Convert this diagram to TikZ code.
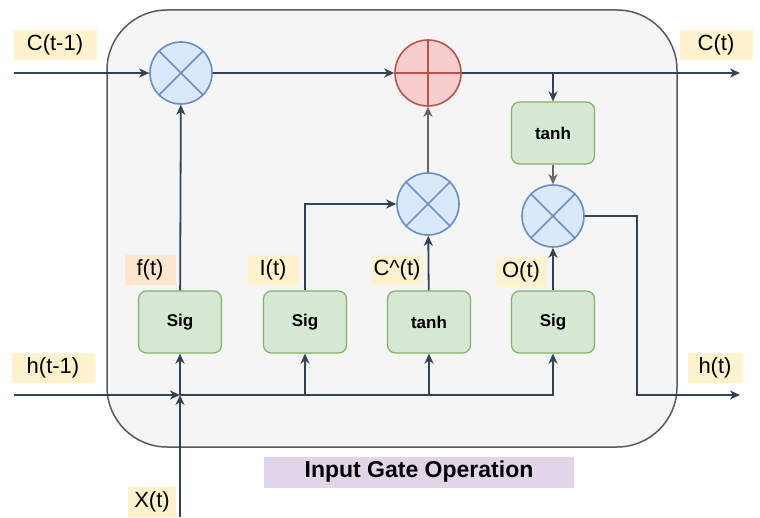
\documentclass[tikz,border=0pt]{standalone}
\usepackage{fontspec}
\setmainfont{Liberation Sans}
\usetikzlibrary{shapes.geometric, arrows.meta, positioning}

\definecolor{navy}{HTML}{314354}
\definecolor{gatefill}{HTML}{D5E8D4}
\definecolor{gateline}{HTML}{82B366}
\definecolor{mulfill}{HTML}{DAE8FC}
\definecolor{mulline}{HTML}{6C8EBF}
\definecolor{addfill}{HTML}{F8CECC}
\definecolor{addline}{HTML}{B85450}
\definecolor{tagfill}{HTML}{FFF2CC}
\definecolor{ftagfill}{HTML}{FFE6CC}
\definecolor{titlefill}{HTML}{E1D5E7}

\tikzstyle{arrow} = [line width=1.8pt, draw=navy, ->, >={Stealth[length=10pt,width=9pt,inset=3pt]}]
\tikzstyle{arrowg} = [arrow, draw=black!60]
\tikzstyle{gate} = [rectangle, rounded corners=8pt, minimum width=83pt, minimum height=62pt, draw=gateline, fill=gatefill, line width=1.2pt, font=\fontsize{17}{19}\selectfont\bfseries]
\tikzstyle{mul} = [circle, minimum size=62pt, inner sep=0pt, draw=mulline, fill=mulfill, line width=1.6pt]
\tikzstyle{add} = [circle, minimum size=66pt, inner sep=0pt, draw=addline, fill=addfill, line width=1.6pt]
\tikzstyle{tag} = [rectangle, fill=tagfill, minimum height=30pt, inner sep=1pt, font=\fontsize{22}{24}\selectfont]

\begin{document}
\begin{tikzpicture}[x=1pt, y=1pt]
\useasboundingbox (0,0) rectangle (760,517);

% LSTM cell:
\draw[draw=black!65, fill=black!4, line width=1.5pt, rounded corners=60pt] (107,70) rectangle (677,507);

% gates:
\node(sigf)[gate] at (180,195) {Sig};
\node(sigi)[gate, right of=sigf, node distance=125pt] {Sig};
\node(tanhi)[gate, right of=sigi, node distance=124pt] {tanh};
\node(sigo)[gate, right of=tanhi, node distance=124pt] {Sig};
\node(tanhc)[gate] at (553,384) {tanh};

% pointwise operations:
\node(m1)[mul] at (181,444) {};
\node(plus)[add] at (428,444) {};
\node(m2)[mul] at (428,313) {};
\node(m3)[mul] at (553,301) {};
\draw[mulline, line width=1.6pt] (m1.north east) -- (m1.south west) (m1.north west) -- (m1.south east);
\draw[mulline, line width=1.6pt] (m2.north east) -- (m2.south west) (m2.north west) -- (m2.south east);
\draw[mulline, line width=1.6pt] (m3.north east) -- (m3.south west) (m3.north west) -- (m3.south east);
\draw[addline, line width=1.6pt] (plus.north) -- (plus.south) (plus.west) -- (plus.east);

% labels:
\node(ctm1)[tag, minimum width=83pt] at (55,472) {C(t-1)};
\node(ct)[tag, minimum width=73pt] at (716,472) {C(t)};
\node(htm1)[tag, minimum width=83pt] at (53,149) {h(t-1)};
\node(ht)[tag, minimum width=55pt] at (715,149) {h(t)};
\node(xt)[tag, minimum width=48pt] at (152,15) {X(t)};
\node(ft)[tag, fill=ftagfill, minimum width=51pt] at (150,247) {f(t)};
\node(it)[tag, minimum width=51pt] at (273,247) {I(t)};
\node(cht)[tag, minimum width=51pt] at (397,247) {C\^{}(t)};
\node(ot)[tag, minimum width=51pt] at (521,245) {O(t)};
\node(title)[rectangle, fill=titlefill, minimum width=310pt, minimum height=31pt, font=\fontsize{23}{25}\selectfont\bfseries] at (419,45) {Input Gate Operation};

% free ends:
\coordinate (cin) at (14,444);
\coordinate (cout) at (740,444);
\coordinate (hin) at (14,122);
\coordinate (xjoin) at (180,122);
\coordinate (xin) at (180,0);
\coordinate (hturn) at (637,122);
\coordinate (hout) at (740,122);

% cell state:
\draw[arrow] (cin) -- (m1);
\draw[arrow] (m1) -- (plus);
\draw[arrow] (plus) -- (cout);
\draw[arrow] (tanhc.north |- plus) -- (tanhc);
\draw[arrowg] (tanhc) -- (m3);

% gate outputs:
\draw[arrow] (sigf) -- (m1);
\draw[arrow] (sigi.north) |- (m2);
\draw[arrow] (tanhi) -- (m2);
\draw[arrowg] (m2) -- (plus);
\draw[arrow] (sigo) -- (m3);
\draw[arrow] (m3.east) -| (hturn) -- (hout);

% inputs:
\draw[arrow] (hin) -- (xjoin);
\draw[arrow] (xin) -- (xjoin);
\draw[arrow] (xjoin) -- (sigf);
\draw[arrow] (xjoin) -| (sigo);
\draw[arrow] (sigi |- xjoin) -- (sigi);
\draw[arrow] (tanhi |- xjoin) -- (tanhi);

\end{tikzpicture}
\end{document}
